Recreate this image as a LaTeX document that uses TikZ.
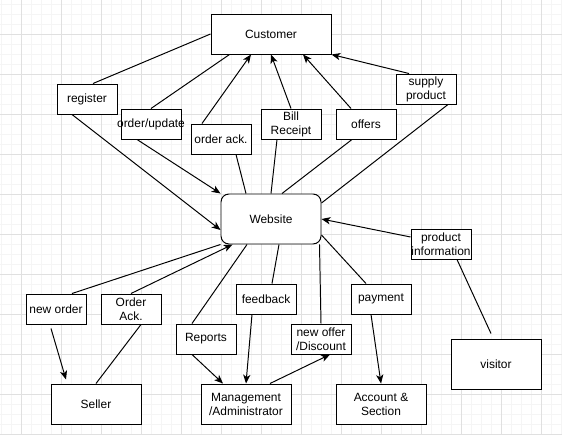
\documentclass[tikz,border=0pt]{standalone}
\usepackage{fontspec}
\setmainfont{Liberation Sans}
\begin{document}
\begin{tikzpicture}[
    box/.style={draw, fill=white, line width=0.7pt, inner sep=0pt, align=center, font=\fontsize{8.5}{10}\selectfont},
    tag/.style={box, minimum width=1.5cm, minimum height=0.75cm},
    actor/.style={box, minimum width=2.25cm, minimum height=1cm},
    link/.style={line width=0.7pt},
    flow/.style={link, -{Stealth[length=0.22cm, width=0.18cm, inset=0.06cm]}}
  ]
    \usetikzlibrary{arrows.meta}
    \useasboundingbox (-0.525,-0.025) rectangle (13.525,10.85);
    \draw[step=0.25, black!4] (-0.525,-0.025) grid (13.525,10.85);
    \draw[step=1, black!12] (-0.525,-0.025) grid (13.525,10.85);
    \node[box, minimum width=3cm, minimum height=1cm] at (6.25,10) (cust) {Customer};
    \node[box, rounded corners=0.2cm, minimum width=2.5cm, minimum height=1.25cm] at (6.25,5.375) (web) {Website};
    \node[actor] at (1.875,0.75) (seller) {Seller};
    \node[actor] at (5.625,0.75) (admin) {Management\\/Administrator};
    \node[actor] at (9,0.75) (acct) {Account \&\\Section};
    \node[actor, minimum height=1.25cm] at (11.875,1.75) (visitor) {visitor};
    \node[tag] at (1.65,8.375) (register) {register};
    \node[tag] at (3.25,7.75) (update) {\makebox[0pt]{order/update}};
    \node[tag] at (5,7.375) (ack) {order ack.};
    \node[tag] at (6.75,7.75) (bill) {Bill\\Receipt};
    \node[tag] at (8.625,7.75) (offers) {offers};
    \node[tag] at (10.125,8.625) (supply) {supply\\product};
    \node[tag] at (10.5,4.75) (info) {product\\information};
    \node[tag] at (9,3.375) (payment) {payment};
    \node[tag] at (7.5,2.375) (offer) {new offer\\/Discount};
    \node[tag] at (6.125,3.375) (feedback) {feedback};
    \node[tag] at (4.625,2.375) (reports) {Reports};
    \node[tag] at (2.75,3.125) (sack) {Order\\Ack.};
    \node[tag] at (0.875,3.125) (neworder) {new order};
    \draw[link] ([xshift=0.15cm]register.north) -- (cust.west);
    \draw[flow] ([xshift=-0.375cm]register.south) -- ([yshift=-0.275cm]web.west);
    \draw[link] ([xshift=0.475cm]cust.south west) -- (update.north);
    \draw[flow] ([xshift=-0.35cm]update.south) -- (web.north west);
    \draw[link] ([xshift=-0.625cm]web.north) -- ([xshift=0.375cm]ack.south);
    \draw[flow] ([xshift=-0.475cm]ack.north) -- ([xshift=-0.5cm]cust.south);
    \draw[link] (web.north) -- ([xshift=-0.35cm]bill.south);
    \draw[flow] (bill.north) -- (cust.south);
    \draw[link] ([xshift=0.275cm]web.north) -- ([xshift=-0.35cm]offers.south);
    \draw[flow] ([xshift=-0.375cm]offers.north) -- ([xshift=0.8cm]cust.south);
    \draw[link] ([yshift=0.4cm]web.east) -- ([xshift=0.55cm]supply.south);
    \draw[flow] ([xshift=-0.425cm]supply.north) -- (cust.south east);
    \draw[link] ([xshift=-0.125cm,yshift=0.125cm]visitor.north) -- ([xshift=0.4cm]info.south);
    \draw[flow] ([yshift=0.175cm]info.west) -- (web.east);
    \draw[link] ([yshift=-0.4cm]web.east) -- ([xshift=-0.375cm]payment.north);
    \draw[flow] ([xshift=-0.25cm]payment.south) -- (acct.north);
    \draw[link] ([xshift=-0.05cm]web.south east) -- (offer.north);
    \draw[flow] ([xshift=0.6cm]admin.north) -- ([xshift=0.225cm]offer.south);
    \draw[link] ([xshift=0.2cm]web.south) -- ([xshift=0.15cm]feedback.north);
    \draw[flow] ([xshift=-0.35cm]feedback.south) -- (admin.north);
    \draw[link] ([xshift=-0.6cm]web.south) -- ([xshift=-0.35cm]reports.north);
    \draw[flow] ([xshift=-0.35cm]reports.south) -- ([xshift=-0.575cm]admin.north);
    \draw[link] (web.south west) -- ([xshift=0.4cm]neworder.north);
    \draw[flow] ([xshift=-0.125cm,yshift=-0.1cm]neworder.south) -- ([xshift=-0.75cm,yshift=0.1cm]seller.north);
    \draw[link] (seller.north) -- ([xshift=0.25cm]sack.south);
    \draw[flow] (sack.north) -- ([xshift=0.3cm]web.south west);
\end{tikzpicture}
\end{document}
